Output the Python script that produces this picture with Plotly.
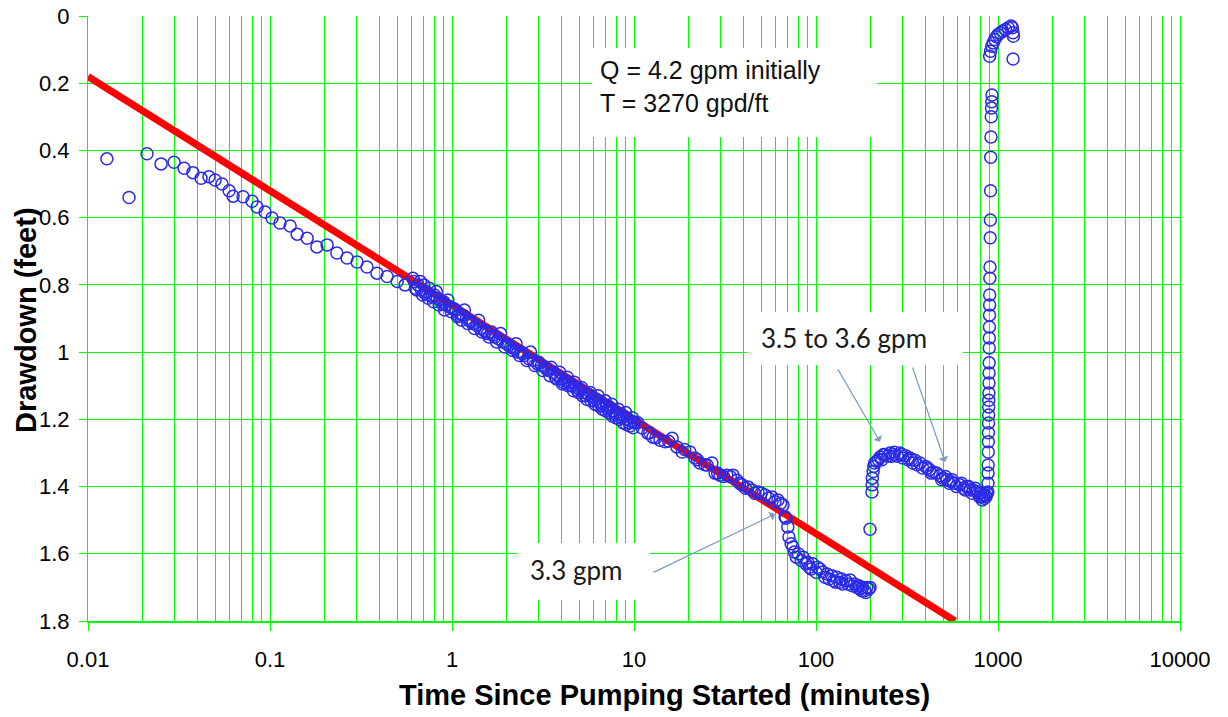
import plotly.graph_objects as go

# ---------------- data ----------------
# early-time data
t_early = [0.0127, 0.0168, 0.0211, 0.0252, 0.0297, 0.0337, 0.0377, 0.0418, 0.0462, 0.0499,
           0.0545, 0.0596, 0.0627, 0.0711, 0.0797, 0.0849, 0.094, 0.1026, 0.1135, 0.129,
           0.141, 0.16, 0.181, 0.206, 0.233, 0.265, 0.301, 0.341, 0.387, 0.44, 0.5, 0.552, 0.61]
s_early = [0.425, 0.54, 0.41, 0.44, 0.435, 0.453, 0.466, 0.483, 0.478, 0.488,
           0.5, 0.52, 0.536, 0.538, 0.551, 0.568, 0.583, 0.601, 0.616, 0.625,
           0.649, 0.661, 0.687, 0.681, 0.705, 0.72, 0.732, 0.747, 0.765, 0.775, 0.79, 0.80, 0.78]

# middle-time data (dense band)
t_mid_a = [0.62, 0.65, 0.68, 0.70, 0.72, 0.75, 0.78, 0.80, 0.83, 0.86, 0.90, 0.93, 0.97, 1.0,
           1.05, 1.1, 1.15, 1.2, 1.25, 1.3, 1.37, 1.43, 1.5, 1.57, 1.65, 1.72, 1.8, 1.9, 2.0,
           2.1, 2.2, 2.3, 2.4, 2.5, 2.65, 2.8, 2.95, 3.1, 3.25, 3.4, 3.6, 3.8, 4.0, 4.2, 4.4,
           4.6, 4.8, 5.0, 5.3, 5.6, 5.9, 6.2, 6.5, 6.8, 7.1, 7.4, 7.7, 8.0, 8.4, 8.8, 9.2, 9.6, 10.0]
s_mid_a = [0.79, 0.80, 0.815, 0.80, 0.82, 0.81, 0.835, 0.83, 0.84, 0.845, 0.85, 0.86, 0.865, 0.87,
           0.875, 0.885, 0.89, 0.90, 0.905, 0.915, 0.92, 0.93, 0.935, 0.945, 0.94, 0.955, 0.96, 0.97, 0.975,
           0.985, 0.99, 1.0, 1.0, 1.01, 1.02, 1.025, 1.035, 1.04, 1.045, 1.055, 1.06, 1.07, 1.08, 1.085, 1.09,
           1.10, 1.105, 1.11, 1.12, 1.125, 1.135, 1.14, 1.15, 1.155, 1.16, 1.165, 1.175, 1.18, 1.185, 1.19, 1.20, 1.205, 1.21]
t_mid_b = [0.63, 0.67, 0.71, 0.76, 0.82, 0.88, 0.95, 1.02, 1.08, 1.17, 1.27, 1.4, 1.53, 1.68,
           1.85, 2.05, 2.25, 2.45, 2.7, 3.0, 3.3, 3.5, 3.7, 3.9, 4.1, 4.3, 4.5, 4.7, 4.9, 5.15,
           5.45, 5.75, 6.05, 6.35, 6.65, 6.95, 7.25, 7.55, 7.85, 8.2, 8.6, 9.0, 9.4, 9.8]
s_mid_b = [0.81, 0.79, 0.825, 0.83, 0.82, 0.855, 0.845, 0.87, 0.89, 0.875, 0.91, 0.905, 0.94, 0.95,
           0.945, 0.98, 0.975, 1.005, 1.0, 1.03, 1.05, 1.045, 1.075, 1.06, 1.09, 1.075, 1.10, 1.09, 1.115, 1.105,
           1.13, 1.12, 1.145, 1.13, 1.16, 1.145, 1.17, 1.155, 1.185, 1.17, 1.195, 1.18, 1.21, 1.195]
t_mid_c = [0.64, 0.69, 0.74, 0.79, 0.85, 0.91, 0.99, 1.07, 1.13, 1.22, 1.33, 1.46, 1.6, 1.76,
           1.95, 2.15, 2.35, 2.58, 2.85, 3.15, 3.45, 3.75, 4.05, 4.35, 4.65, 4.95, 5.2, 5.5,
           5.8, 6.1, 6.4, 6.7, 7.0, 7.3, 7.6, 7.95, 8.3, 8.7, 9.1, 9.5, 9.9]
s_mid_c = [0.815, 0.83, 0.84, 0.85, 0.86, 0.875, 0.88, 0.895, 0.905, 0.915, 0.93, 0.94, 0.955, 0.97,
           0.985, 0.995, 1.01, 1.025, 1.04, 1.055, 1.07, 1.08, 1.095, 1.10, 1.115, 1.12, 1.13, 1.14,
           1.145, 1.155, 1.16, 1.17, 1.175, 1.18, 1.19, 1.195, 1.20, 1.21, 1.215, 1.22, 1.225]

# later pumping, then rate drop
t_late = [10.1, 11.1, 11.9, 12.7, 13.9, 14.8, 16.2, 17.2, 18.4, 20.3, 21.6, 23.0, 25.2, 26.8,
          27.9, 29.7, 32.4, 35.0, 36.8, 39.2, 42.3, 44.5, 48.0, 52.5, 57.3, 61.8, 65.9, 67.6]
s_late = [1.208, 1.226, 1.241, 1.253, 1.262, 1.267, 1.256, 1.282, 1.297, 1.297, 1.315, 1.33, 1.336, 1.33,
          1.36, 1.366, 1.366, 1.366, 1.381, 1.395, 1.401, 1.41, 1.416, 1.425, 1.431, 1.44, 1.455, 1.49]
t_late2 = [10.5, 12.2, 13.2, 15.5, 19.0, 22.3, 24.5, 28.8, 31.0, 33.8, 38.0, 41.0, 46.0, 50.0,
           55.0, 59.5, 63.8]
s_late2 = [1.21, 1.24, 1.255, 1.265, 1.29, 1.32, 1.335, 1.36, 1.37, 1.37, 1.39, 1.405, 1.42, 1.42,
           1.435, 1.445, 1.45]
t_drop = [68.4, 70, 71, 74.8, 76, 80, 83, 85, 90, 92, 96, 100, 102, 109, 112, 115, 122, 125,
          130, 138, 140, 146, 154, 158, 163, 172, 175, 180, 185, 190, 195, 198]
s_drop = [1.494, 1.52, 1.55, 1.58, 1.595, 1.60, 1.62, 1.61, 1.625, 1.64, 1.63, 1.655, 1.64, 1.654, 1.67, 1.66, 1.665, 1.68,
          1.67, 1.675, 1.69, 1.68, 1.678, 1.695, 1.69, 1.695, 1.705, 1.70, 1.71, 1.70, 1.705, 1.70]
t_drop2 = [73, 78, 88, 94, 105, 118, 128, 135, 150, 168, 178, 188]
s_drop2 = [1.57, 1.61, 1.63, 1.645, 1.645, 1.675, 1.685, 1.685, 1.69, 1.70, 1.71, 1.715]

# rate change near 200 min
t_rec = [198, 203, 203.5, 204, 206, 208, 215, 225, 230, 240, 255, 260, 270, 290, 300, 310, 328,
         340, 350, 372, 400, 420, 440, 480, 500, 525, 550, 570, 617, 650, 670, 700, 730, 760,
         780, 800, 813, 840, 850, 860, 870]
s_rec = [1.527, 1.416, 1.395, 1.375, 1.355, 1.34, 1.325, 1.312, 1.32, 1.305, 1.30, 1.31, 1.298, 1.30, 1.315, 1.308, 1.315,
         1.33, 1.322, 1.33, 1.34, 1.35, 1.357, 1.368, 1.375, 1.38, 1.385, 1.39, 1.395, 1.405, 1.40, 1.41, 1.41, 1.415,
         1.42, 1.42, 1.43, 1.435, 1.425, 1.43, 1.42]
t_rec2 = [210, 220, 235, 248, 265, 280, 295, 320, 335, 360, 385, 410, 430, 460, 490, 515, 540,
          560, 590, 630, 660, 690, 720, 750, 790, 820, 830]
s_rec2 = [1.33, 1.32, 1.305, 1.31, 1.305, 1.31, 1.305, 1.32, 1.32, 1.335, 1.345, 1.345, 1.36, 1.36,
          1.38, 1.37, 1.39, 1.38, 1.40, 1.39, 1.41, 1.40, 1.42, 1.405, 1.43, 1.44, 1.425]

# recovery after pump shut-off
t_off = [880, 881, 882, 883, 884, 885, 886, 887, 888, 889, 890, 891, 892, 893, 894, 895, 896, 897,
         898, 899, 900, 902, 904, 906, 908, 910, 912, 915, 918, 921, 924, 927]
s_off = [1.416, 1.39, 1.36, 1.336, 1.297, 1.267, 1.24, 1.211, 1.187, 1.163, 1.143, 1.122, 1.092, 1.062,
         1.032, 0.988, 0.958, 0.925, 0.89, 0.86, 0.83, 0.78, 0.747, 0.66, 0.607, 0.52, 0.42, 0.36,
         0.30, 0.274, 0.255, 0.235]
t_end = [900, 910, 925, 940, 960, 980, 1000, 1030, 1060, 1100, 1140, 1180, 1200, 1210, 1215, 1210]
s_end = [0.12, 0.105, 0.09, 0.08, 0.07, 0.062, 0.055, 0.05, 0.045, 0.04, 0.035, 0.03, 0.035, 0.05, 0.06, 0.128]

# Cooper-Jacob straight line fit
t_fit = [0.01, 581]
s_fit = [0.18, 1.8]

x_ticks = [0.01, 0.1, 1, 10, 100, 1000, 10000]
x_labels = ["0.01", "0.1", "1", "10", "100", "1000", "10000"]
y_ticks = [0, 0.2, 0.4, 0.6, 0.8, 1.0, 1.2, 1.4, 1.6, 1.8]
y_labels = ["0", "0.2", "0.4", "0.6", "0.8", "1", "1.2", "1.4", "1.6", "1.8"]

t_all = (t_early + t_mid_a + t_mid_b + t_mid_c + t_late + t_late2 + t_drop + t_drop2
         + t_rec + t_rec2 + t_off + t_end)
s_all = (s_early + s_mid_a + s_mid_b + s_mid_c + s_late + s_late2 + s_drop + s_drop2
         + s_rec + s_rec2 + s_off + s_end)

# ---------------- figure ----------------
GREEN = "#00ff00"
OFF = 8                      # page body margin of the browser
W, H = 1228 - OFF, 717 - OFF
L, T = 88 - OFF, 16 - OFF
R, B = W - (1180 - OFF), H - (621 - OFF)
PW, PH = W - L - R, H - T - B


def px(xp):
    return (xp - OFF - L) / PW


def py(yp):
    return 1 - (yp - OFF - T) / PH


fig = go.Figure()
fig.add_trace(go.Scatter(x=t_fit, y=s_fit, mode="lines",
                         line=dict(color="#ff0000", width=7), showlegend=False))
fig.add_trace(go.Scatter(x=t_all, y=s_all, mode="markers",
                         marker=dict(symbol="circle-open", size=12, color="#2a2ae8",
                                     line=dict(width=1.5, color="#2a2ae8")),
                         showlegend=False))

minor_vals = [m * 10 ** e for e in range(-2, 4) for m in range(2, 10)]

fig.update_xaxes(type="log", range=[-2, 4], tickvals=x_ticks, ticktext=x_labels,
                 showgrid=True, gridcolor=GREEN, gridwidth=1,
                 minor=dict(tickvals=minor_vals, showgrid=True, gridcolor=GREEN, gridwidth=1, ticks=""),
                 ticks="outside", ticklen=8, tickcolor=GREEN, tickwidth=1,
                 showline=True, linecolor=GREEN, linewidth=2, mirror=False,
                 zeroline=False, ticklabelstandoff=10, automargin=False,
                 ticklabeloverflow="allow",
                 tickfont=dict(family="Liberation Sans, Arial", size=22, color="black"))
fig.update_yaxes(range=[1.8, 0], tickvals=y_ticks, ticktext=y_labels,
                 showgrid=True, gridcolor=GREEN, gridwidth=1,
                 ticks="outside", ticklen=8, tickcolor=GREEN, tickwidth=1,
                 showline=True, linecolor=GREEN, linewidth=1, mirror=True,
                 zeroline=False, ticklabelstandoff=5, automargin=False,
                 ticklabeloverflow="allow",
                 tickfont=dict(family="Liberation Sans, Arial", size=22, color="black"))

# white label boxes hiding the grid
boxes = [(592, 48, 877, 137), (747, 312, 963, 365), (517, 543, 650, 600)]
shapes = []
for x0, y0, x1, y1 in boxes:
    shapes.append(dict(type="rect", xref="paper", yref="paper",
                       x0=px(x0), x1=px(x1), y0=py(y1), y1=py(y0),
                       fillcolor="white", line=dict(width=0), layer="above"))

ARROW = "#7a9cc4"
annotations = [
    dict(text="Q = 4.2 gpm initially<br>T = 3270 gpd/ft", xref="paper", yref="paper",
         x=px(598), y=py(86), xanchor="left", yanchor="middle", align="left", showarrow=False,
         font=dict(family="Liberation Sans, Arial", size=25, color="#111111")),
    dict(text="3.5 to 3.6 gpm", xref="paper", yref="paper",
         x=px(759), y=py(338), xanchor="left", yanchor="middle", showarrow=False,
         font=dict(family="Lato", size=26, color="#1a1a1a")),
    dict(text="3.3 gpm", xref="paper", yref="paper",
         x=px(528), y=py(570), xanchor="left", yanchor="middle", showarrow=False,
         font=dict(family="Lato", size=26, color="#1a1a1a")),
    dict(text="", x=1.775, y=1.482, xref="x", yref="y", ax=-123, ay=59, showarrow=True,
         arrowhead=1, arrowsize=1.4, arrowwidth=1.2, arrowcolor=ARROW),
    dict(text="", x=2.352, y=1.267, xref="x", yref="y", ax=-43, ay=-74, showarrow=True,
         arrowhead=1, arrowsize=1.4, arrowwidth=1.2, arrowcolor=ARROW),
    dict(text="", x=2.709, y=1.327, xref="x", yref="y", ax=-33, ay=-96, showarrow=True,
         arrowhead=1, arrowsize=1.4, arrowwidth=1.2, arrowcolor=ARROW),
    dict(text="<b>Time Since Pumping Started (minutes)</b>", xref="paper", yref="paper",
         x=px(664), y=py(695), xanchor="center", yanchor="middle", showarrow=False,
         font=dict(family="Liberation Sans, Arial", size=29, color="black")),
    dict(text="<b>Drawdown (feet)</b>", xref="paper", yref="paper", textangle=-90,
         x=px(26), y=py(320), xanchor="center", yanchor="middle", showarrow=False,
         font=dict(family="Liberation Sans, Arial", size=29, color="black")),
]

fig.update_layout(width=W, height=H, margin=dict(l=L, r=R, t=T, b=B, autoexpand=False),
                  plot_bgcolor="white", paper_bgcolor="white",
                  shapes=shapes, annotations=annotations, showlegend=False)

fig.write_html("out.html")
